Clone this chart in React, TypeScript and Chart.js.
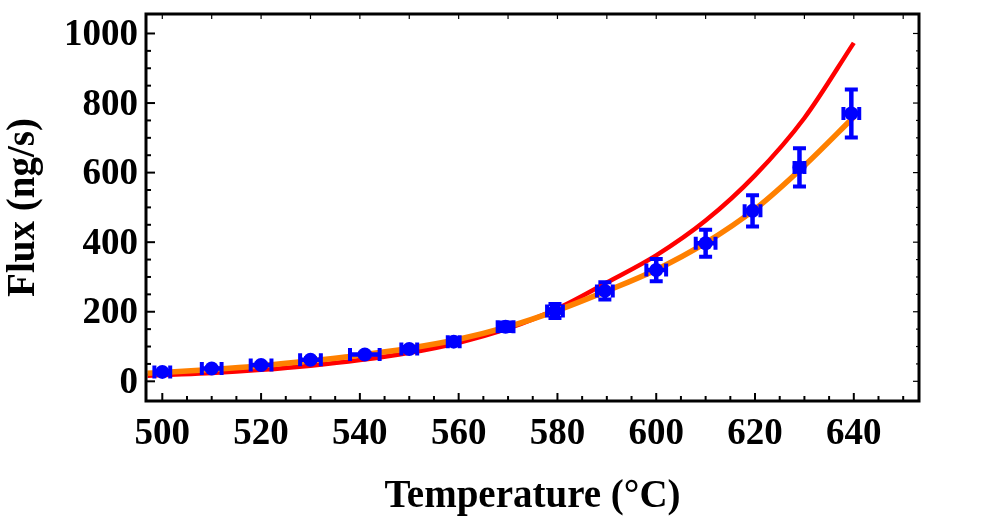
import React, { useEffect, useRef } from "react";
import { Chart, registerables } from "chart.js";

Chart.register(...registerables);

// Measured data points (temperature °C, flux ng/s) with error bars
const temps = [500, 510, 520, 530, 541, 550, 559, 569.5, 579.5, 589.6, 600, 610, 619.5, 629, 639.5];
const flux = [27, 37, 47, 62, 77, 93, 114, 157, 202, 260, 320, 397, 490, 615, 770];
const tempErr = [1.6, 2.0, 2.1, 2.1, 3.0, 1.6, 1.2, 1.6, 1.6, 1.6, 2.0, 2.0, 1.6, 1.0, 1.6];
const fluxErr = [3, 3, 4, 4, 5, 6, 8, 12, 20, 25, 32, 39, 45, 55, 69];

// Fit curves
const curveT = [497, 500, 510, 520, 530, 540, 550, 560, 570, 580, 590, 600, 610, 620, 630, 640];
const redFlux = [16, 18, 24, 33, 45, 61, 82, 111, 152, 209, 284, 362, 462, 592, 757, 973];
const orangeFlux = [23, 25, 34, 45, 59, 75, 95, 121, 157, 204, 260, 321, 398, 495, 620, 760];

// Tick labels
const xTickValues = [500, 520, 540, 560, 580, 600, 620, 640];
const yTickValues = [0, 200, 400, 600, 800, 1000];

const FONT = "'Liberation Serif', 'Times New Roman', serif";

const framePlugin = {
  id: "mmaFrame",
  afterDatasetsDraw(chart: any) {
    const ctx = chart.ctx;
    const xs = chart.scales.x;
    const ys = chart.scales.y;
    const ca = chart.chartArea;
    ctx.save();
    ctx.beginPath();
    ctx.rect(ca.left, ca.top, ca.right - ca.left, ca.bottom - ca.top);
    ctx.clip();
    ctx.strokeStyle = "#0000ff";
    ctx.lineCap = "butt";
    const cap = 6.5;
    for (let i = 0; i < temps.length; i++) {
      const px = xs.getPixelForValue(temps[i]);
      const py = ys.getPixelForValue(flux[i]);
      const x1 = xs.getPixelForValue(temps[i] - tempErr[i]);
      const x2 = xs.getPixelForValue(temps[i] + tempErr[i]);
      const y1 = ys.getPixelForValue(flux[i] - fluxErr[i]);
      const y2 = ys.getPixelForValue(flux[i] + fluxErr[i]);
      ctx.lineWidth = 4.5;
      ctx.beginPath();
      ctx.moveTo(x1, py);
      ctx.lineTo(x2, py);
      ctx.moveTo(px, y1);
      ctx.lineTo(px, y2);
      ctx.stroke();
      ctx.lineWidth = 4;
      ctx.beginPath();
      ctx.moveTo(x1, py - cap);
      ctx.lineTo(x1, py + cap);
      ctx.moveTo(x2, py - cap);
      ctx.lineTo(x2, py + cap);
      ctx.moveTo(px - cap, y1);
      ctx.lineTo(px + cap, y1);
      ctx.moveTo(px - cap, y2);
      ctx.lineTo(px + cap, y2);
      ctx.stroke();
    }
    ctx.restore();
  },
  afterDraw(chart: any) {
    const ctx = chart.ctx;
    const xs = chart.scales.x;
    const ys = chart.scales.y;
    const ca = chart.chartArea;
    ctx.save();
    ctx.strokeStyle = "#000";
    // bottom ticks
    ctx.lineWidth = 2;
    for (let v = 500; v <= 650; v += 5) {
      const px = xs.getPixelForValue(v);
      const len = v % 20 === 0 ? 8 : 5;
      ctx.beginPath();
      ctx.moveTo(px, ca.bottom);
      ctx.lineTo(px, ca.bottom - len);
      ctx.stroke();
    }
    // left ticks
    for (let v = 0; v <= 1000; v += 50) {
      const py = ys.getPixelForValue(v);
      const len = v % 200 === 0 ? 9 : 5;
      ctx.beginPath();
      ctx.moveTo(ca.left, py);
      ctx.lineTo(ca.left + len, py);
      ctx.stroke();
    }
    // top ticks
    ctx.lineWidth = 1.2;
    for (let v = 500; v <= 650; v += 10) {
      const px = xs.getPixelForValue(v);
      ctx.beginPath();
      ctx.moveTo(px, ca.top);
      ctx.lineTo(px, ca.top + 5);
      ctx.stroke();
    }
    // right ticks
    for (let v = 0; v <= 1000; v += 50) {
      const py = ys.getPixelForValue(v);
      const len = v % 200 === 0 ? 6 : 3;
      ctx.beginPath();
      ctx.moveTo(ca.right, py);
      ctx.lineTo(ca.right - len, py);
      ctx.stroke();
    }
    // frame
    ctx.lineWidth = 3;
    ctx.strokeRect(ca.left, ca.top, ca.right - ca.left, ca.bottom - ca.top);
    ctx.restore();
  },
};

export default function App() {
  const canvasRef = useRef<HTMLCanvasElement | null>(null);

  useEffect(() => {
    const canvas = canvasRef.current;
    if (!canvas) return;
    const chart = new Chart(canvas, {
      type: "scatter",
      data: {
        datasets: [
          {
            label: "data",
            data: temps.map((t, i) => ({ x: t, y: flux[i] })),
            backgroundColor: "#0000ff",
            borderColor: "#0000ff",
            pointRadius: 7,
            pointStyle: "circle",
            borderWidth: 0,
            showLine: false,
            order: 0,
          },
          {
            label: "orange",
            data: curveT.map((t, i) => ({ x: t, y: orangeFlux[i] })),
            borderColor: "#ff8000",
            backgroundColor: "#ff8000",
            borderWidth: 5.5,
            pointRadius: 0,
            showLine: true,
            cubicInterpolationMode: "monotone",
            tension: 0.4,
            order: 1,
          },
          {
            label: "red",
            data: curveT.map((t, i) => ({ x: t, y: redFlux[i] })),
            borderColor: "#ff0000",
            backgroundColor: "#ff0000",
            borderWidth: 4.5,
            pointRadius: 0,
            showLine: true,
            cubicInterpolationMode: "monotone",
            tension: 0.4,
            order: 2,
          },
        ],
      },
      options: {
        animation: false,
        responsive: true,
        maintainAspectRatio: false,
        layout: { padding: { top: 14, right: 68, bottom: 0, left: 0 } },
        plugins: {
          legend: { display: false },
          tooltip: { enabled: false },
        },
        scales: {
          x: {
            type: "linear",
            position: "bottom",
            min: 496.7,
            max: 653.2,
            grid: { display: false, drawTicks: false },
            border: { display: false },
            afterBuildTicks: (s: any) => {
              s.ticks = xTickValues.map((v) => ({ value: v }));
            },
            afterFit: (s: any) => {
              s.height = 121;
              s.paddingLeft = 0;
              s.paddingRight = 0;
              s.paddingTop = 0;
              s.paddingBottom = 0;
            },
            ticks: {
              color: "#000",
              padding: 15,
              maxRotation: 0,
              autoSkip: false,
              font: { family: FONT, size: 37, weight: "bold", lineHeight: 1 },
              callback: (v: any) => String(v),
            },
            title: {
              display: true,
              text: "Temperature (°C)",
              color: "#000",
              font: { family: FONT, size: 39, weight: "bold", lineHeight: 1 },
              padding: { top: 0, bottom: 6 },
            },
          },
          y: {
            type: "linear",
            position: "left",
            min: -56.6,
            max: 1056,
            grid: { display: false, drawTicks: false },
            border: { display: false },
            afterBuildTicks: (s: any) => {
              s.ticks = yTickValues.map((v) => ({ value: v }));
            },
            afterFit: (s: any) => {
              s.width = 146;
              s.paddingLeft = 0;
              s.paddingRight = 0;
              s.paddingTop = 0;
              s.paddingBottom = 0;
            },
            ticks: {
              color: "#000",
              padding: 8,
              labelOffset: 2,
              autoSkip: false,
              font: { family: FONT, size: 37, weight: "bold", lineHeight: 1 },
              callback: (v: any) => String(v),
            },
            title: {
              display: true,
              text: "Flux (ng/s)",
              color: "#000",
              font: { family: FONT, size: 39, weight: "bold", lineHeight: 1 },
              padding: { top: 4, bottom: 0 },
            },
          },
        },
      },
      plugins: [framePlugin],
    } as any);
    return () => chart.destroy();
  }, []);

  return (
    <div
      style={{
        position: "absolute",
        left: 0,
        top: 0,
        width: 987,
        height: 522,
        background: "#fff",
      }}
    >
      <canvas ref={canvasRef} />
    </div>
  );
}
